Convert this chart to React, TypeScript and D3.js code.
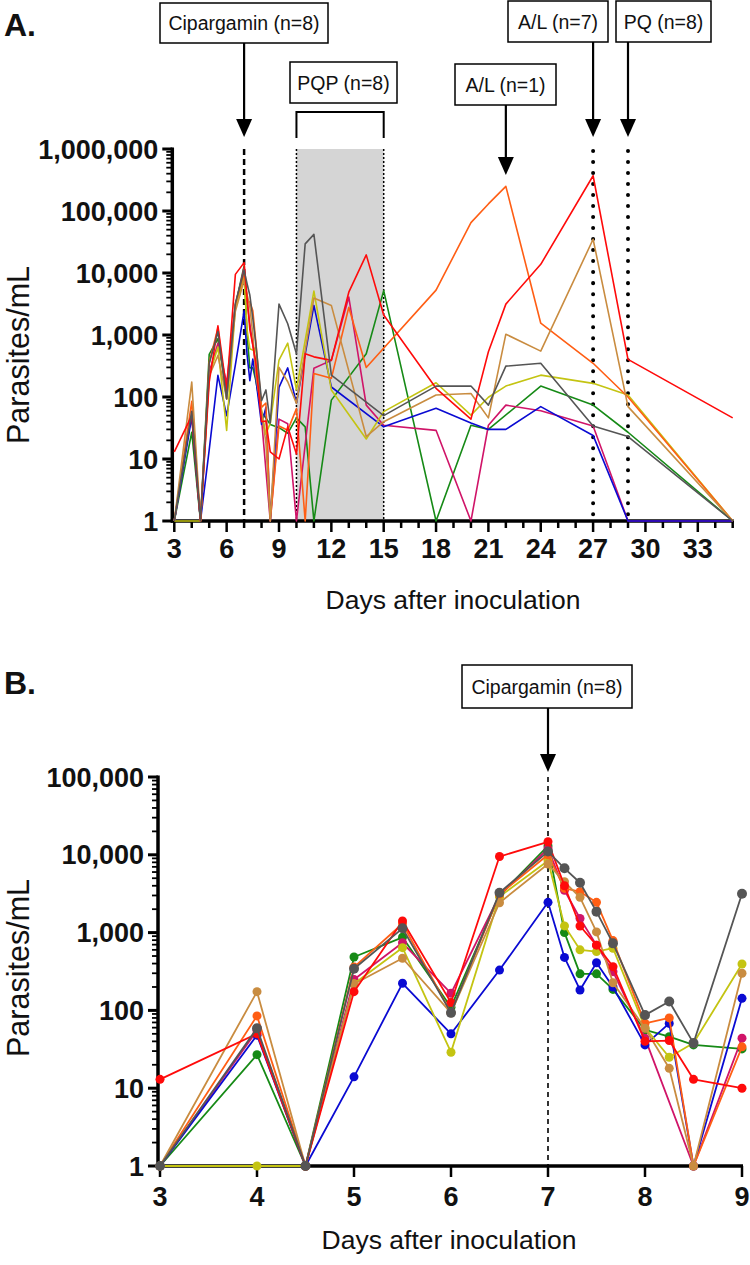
import React from 'react';
import * as d3 from 'd3';

// Sampling days (days after inoculation)
const DAYS = [3, 4, 4.5, 5, 5.5, 6, 6.5, 7, 7.17, 7.33, 7.5, 7.67, 8, 8.25, 8.5, 9, 9.5, 10, 10.5, 11, 12, 13, 14, 15, 18, 20, 21, 22, 24, 27, 29, 35];
// Panel B uses the first 16 sampling days (day 3 to day 9)
const B_COUNT = 16;

const BLUE = [1, 48, 1, 14, 223, 50, 330, 2450, 480, 183, 410, 200, 36, 68, 1, 143, 295, 80, null, 3000, 145, null, null, 33, 66, 38, 30, 30, 70, 24, 1, 1];
const GREEN = [1, 27, 1, 486, 870, 110, 3000, 13000, 1000, 295, 295, 186, 56, 46, 36, 32, 26, 46, 33, 1, 89, null, 500, 5200, 1, 35, 30, null, 150, 74, 27, 1];
const MAGENTA = [1, 55, 1, 250, 740, 166, 3000, 12000, 3500, 1520, 690, 315, 44, null, 1, 44, 37, 1, null, 290, 390, 4100, 74, 35, 29, 1, 35, 74, 60, 34, 1, 1];
const YELLOW = [1, 1, 1, 220, 640, 29, 2900, 8400, 1220, 600, 570, 630, 60, 25, 38, 395, 740, 130, null, 5100, 130, null, 21, 58, 170, 51, 99, 150, 225, 166, 108, 1];
const ORANGE = [1, 85, 1, 360, 1300, 93, 3100, 10000, 3700, 3360, 2450, 790, 68, 80, 1, 34, 29, 65, 1, 240, 200, 2800, 300, null, 5300, 65000, 130000, 250000, 1550, 350, 100, 1];
const TAN = [1, 174, 1, 218, 468, 93, 2420, 7600, 4500, 2840, 1020, 227, 59, 18, 1, 300, 176, 79, null, 3950, 3000, null, 23, 40, 108, 114, 46, 1030, 550, 35000, 70, 1];
const RED = [13, 50, 1, 174, 1410, 126, 9500, 14700, 4000, 1215, 690, 365, 40, 41, 13, 10, 33, 12, 500, 444, 390, 4900, 19600, 2100, 138, 44, 537, 3150, 13800, 370000, 405, 46];
const GRAY = [1, 59, 1, 343, 1135, 93, 3260, 11000, 6700, 4370, 1860, 727, 87, 130, 38, 3150, 1520, 500, 29500, 42000, 225, null, null, 50, 150, 150, 74, 315, 350, 34, 23, 1];

const SERIES = [
  { name: 'green', color: '#168a16', values: GREEN },
  { name: 'magenta', color: '#d01468', values: MAGENTA },
  { name: 'blue', color: '#0a0ad2', values: BLUE },
  { name: 'yellow', color: '#c4c412', values: YELLOW },
  { name: 'orange', color: '#ff5e14', values: ORANGE },
  { name: 'tan', color: '#c98c40', values: TAN },
  { name: 'red', color: '#ff0a0a', values: RED },
  { name: 'gray', color: '#555555', values: GRAY },
];

const A_X_TICKS = [3, 6, 9, 12, 15, 18, 21, 24, 27, 30, 33];
const A_Y_TICKS = [1, 10, 100, 1000, 10000, 100000, 1000000];
const B_X_TICKS = [3, 4, 5, 6, 7, 8, 9];
const B_Y_TICKS = [1, 10, 100, 1000, 10000, 100000];

const FONT = '"Liberation Sans", Arial, Helvetica, sans-serif';
const fmt = d3.format(',');

function minorTicks(max: number) {
  const out: number[] = [];
  for (let dec = 1; dec < max; dec *= 10) {
    for (let k = 2; k <= 9; k++) out.push(dec * k);
  }
  return out;
}

function Arrow({ x, y0, tip }: { x: number; y0: number; tip: number }) {
  return (
    <g>
      <line x1={x} y1={y0} x2={x} y2={tip - 14} stroke="#000" strokeWidth={2.2} />
      <polygon points={`${x - 8},${tip - 18} ${x + 8},${tip - 18} ${x},${tip}`} fill="#000" />
    </g>
  );
}

function Box({ x0, x1, y0, y1, label, size = 19.5 }: { x0: number; x1: number; y0: number; y1: number; label: string; size?: number }) {
  return (
    <g>
      <rect x={x0} y={y0} width={x1 - x0} height={y1 - y0} fill="#fff" stroke="#000" strokeWidth={1.5} />
      <text x={(x0 + x1) / 2} y={(y0 + y1) / 2 + size * 0.36} textAnchor="middle" fontSize={size} fontFamily={FONT} fill="#111">
        {label}
      </text>
    </g>
  );
}

function YAxis({ y, x0, ticks, max }: { y: d3.ScaleLogarithmic<number, number>; x0: number; ticks: number[]; max: number }) {
  const minors = minorTicks(max);
  return (
    <g>
      <line x1={x0} x2={x0} y1={y(1) + 1.5} y2={y(max) - 1.5} stroke="#000" strokeWidth={3.5} />
      {minors.map((v) => (
        <line key={'m' + v} x1={x0} x2={x0 - 6} y1={y(v)} y2={y(v)} stroke="#000" strokeWidth={1.8} />
      ))}
      {ticks.map((v) => (
        <g key={v}>
          <line x1={x0} x2={x0 - 10} y1={y(v)} y2={y(v)} stroke="#000" strokeWidth={3} />
          <text x={x0 - 14} y={y(v) + 9.5} textAnchor="end" fontSize={27} fontWeight="bold" fontFamily={FONT} fill="#111">
            {fmt(v)}
          </text>
        </g>
      ))}
    </g>
  );
}

export default function App() {
  // Panel A scales
  const xA = d3.scaleLinear().domain([3, 35]).range([174.3, 732.7]);
  const yA = d3.scaleLog().domain([1, 1e6]).range([521, 149]);
  // Panel B scales
  const xB = d3.scaleLinear().domain([3, 9]).range([160, 742]);
  const yB = d3.scaleLog().domain([1, 1e5]).range([1166, 777]);

  const pts = (vals: (number | null)[], n: number) =>
    DAYS.slice(0, n)
      .map((d, i) => [d, vals[i]] as [number, number | null])
      .filter((p) => p[1] != null) as [number, number][];

  const lineA = d3.line<[number, number]>().x((d) => xA(d[0])).y((d) => yA(d[1]));
  const lineB = d3.line<[number, number]>().x((d) => xB(d[0])).y((d) => yB(d[1]));

  const aMinorX = d3.range(3, 36, 1);

  return (
    <svg width={750} height={1265} style={{ position: 'absolute', left: 0, top: 0, background: '#fff' }}>
      <rect x={0} y={0} width={750} height={1265} fill="#fff" />

      {/* ================= Panel A ================= */}
      <text x={4} y={36} fontSize={32} fontWeight="bold" fontFamily={FONT} fill="#111">A.</text>

      {/* shaded PQP period */}
      <rect x={xA(10)} y={yA(1e6)} width={xA(15) - xA(10)} height={yA(1) - yA(1e6)} fill="#d5d5d5" />
      <line x1={xA(10)} x2={xA(10)} y1={yA(1e6)} y2={yA(1)} stroke="#000" strokeWidth={1.5} strokeDasharray="2,2" />
      <line x1={xA(15)} x2={xA(15)} y1={yA(1e6)} y2={yA(1)} stroke="#000" strokeWidth={1.5} strokeDasharray="2,2" />
      {/* cipargamin day 7 */}
      <line x1={xA(7)} x2={xA(7)} y1={yA(1e6)} y2={yA(1)} stroke="#000" strokeWidth={2.5} strokeDasharray="6,4" />
      {/* A/L day 27 and PQ day 29 */}
      <line x1={xA(27)} x2={xA(27)} y1={yA(1e6) + 2} y2={yA(1)} stroke="#000" strokeWidth={4} strokeDasharray="0.01,11" strokeLinecap="round" />
      <line x1={xA(29)} x2={xA(29)} y1={yA(1e6) + 2} y2={yA(1)} stroke="#000" strokeWidth={4} strokeDasharray="0.01,11" strokeLinecap="round" />

      {/* axes A */}
      <YAxis y={yA} x0={xA(3) - 2} ticks={A_Y_TICKS} max={1e6} />
      <line x1={xA(3) - 3.5} x2={xA(35) + 1} y1={yA(1)} y2={yA(1)} stroke="#000" strokeWidth={3.5} />
      {aMinorX.map((d) => (
        <line key={'ax' + d} x1={xA(d)} x2={xA(d)} y1={yA(1)} y2={yA(1) + (A_X_TICKS.includes(d) ? 11 : 7)} stroke="#000" strokeWidth={2.5} />
      ))}
      {A_X_TICKS.map((d) => (
        <text key={'axl' + d} x={xA(d)} y={558} textAnchor="middle" fontSize={27} fontWeight="bold" fontFamily={FONT} fill="#111">
          {d}
        </text>
      ))}
      <text x={453} y={609} textAnchor="middle" fontSize={26.5} fontFamily={FONT} fill="#111">Days after inoculation</text>
      <text transform="translate(29,355) rotate(-90)" textAnchor="middle" fontSize={30.5} fontFamily={FONT} fill="#111">Parasites/mL</text>

      {/* series lines A (drawn over the axes) */}
      {SERIES.map((s) => (
        <path key={'a' + s.name} d={lineA(pts(s.values, DAYS.length)) || ''} fill="none" stroke={s.color} strokeWidth={1.6} strokeLinejoin="round" />
      ))}

      {/* annotations A */}
      <Box x0={160} x1={328} y0={3} y1={43} label="Cipargamin (n=8)" />
      <Arrow x={xA(7)} y0={43} tip={137} />
      <Box x0={290} x1={397} y0={62} y1={103} label="PQP (n=8)" />
      <path d={`M${xA(10)},138 V112 H${xA(15)} V138`} fill="none" stroke="#000" strokeWidth={2} />
      <Box x0={455} x1={556} y0={64} y1={105} label="A/L (n=1)" />
      <Arrow x={xA(22)} y0={105} tip={175} />
      <Box x0={508} x1={608} y0={1} y1={42} label="A/L (n=7)" />
      <Arrow x={xA(27)} y0={42} tip={137} />
      <Box x0={616} x1={711} y0={1} y1={42} label="PQ (n=8)" />
      <Arrow x={xA(29)} y0={42} tip={137} />

      {/* ================= Panel B ================= */}
      <text x={4} y={694} fontSize={32} fontWeight="bold" fontFamily={FONT} fill="#111">B.</text>

      <line x1={xB(7)} x2={xB(7)} y1={yB(1e5)} y2={yB(1)} stroke="#000" strokeWidth={1.6} strokeDasharray="5,4" />

      <YAxis y={yB} x0={xB(3) - 2} ticks={B_Y_TICKS} max={1e5} />
      <line x1={xB(3) - 3.5} x2={xB(9) + 1} y1={yB(1)} y2={yB(1)} stroke="#000" strokeWidth={3.5} />
      {B_X_TICKS.map((d) => (
        <g key={'bx' + d}>
          <line x1={xB(d)} x2={xB(d)} y1={yB(1)} y2={yB(1) + 11} stroke="#000" strokeWidth={2.5} />
          <text x={xB(d)} y={1206} textAnchor="middle" fontSize={27} fontWeight="bold" fontFamily={FONT} fill="#111">
            {d}
          </text>
        </g>
      ))}
      <text x={449} y={1249} textAnchor="middle" fontSize={26.5} fontFamily={FONT} fill="#111">Days after inoculation</text>
      <text transform="translate(29,968) rotate(-90)" textAnchor="middle" fontSize={30.5} fontFamily={FONT} fill="#111">Parasites/mL</text>

      {SERIES.map((s) => {
        const p = pts(s.values, B_COUNT);
        return (
          <g key={'b' + s.name}>
            <path d={lineB(p) || ''} fill="none" stroke={s.color} strokeWidth={1.8} strokeLinejoin="round" />
            {p.map((d, i) => (
              <circle key={i} cx={xB(d[0])} cy={yB(d[1])} r={s.name === 'gray' ? 5 : 4.5} fill={s.color} />
            ))}
          </g>
        );
      })}

      <Box x0={462} x1={632} y0={665} y1={708} label="Cipargamin (n=8)" />
      <Arrow x={xB(7)} y0={708} tip={772} />
    </svg>
  );
}
